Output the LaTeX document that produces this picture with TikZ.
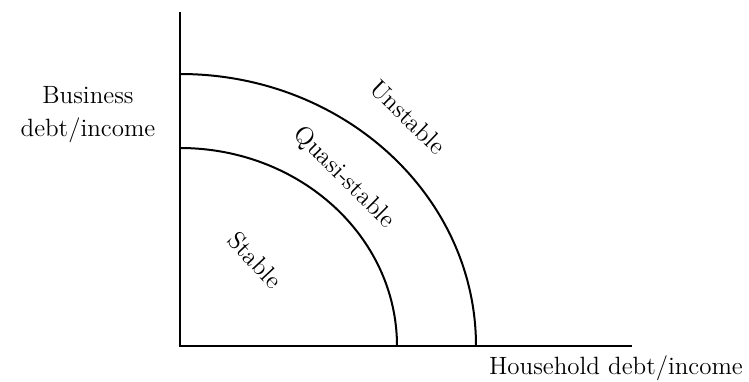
\documentclass[tikz,border=0pt]{standalone}
\usepackage{tikz}
\usetikzlibrary{positioning}

\begin{document}
\begin{tikzpicture}[
        x=0.5pt, y=0.5pt,
        every node/.style={font=\fontsize{12.5}{16.5}\selectfont, inner sep=0pt},
        axis/.style={line width=1pt},
        boundary/.style={line width=1pt},
        region/.style={align=center}
    ]
    \useasboundingbox (-180,-35) rectangle (569,346);

    % Axes
    \coordinate (origin) at (0,0);
    \coordinate (ytop) at (0,334);
    \coordinate (xend) at (452,0);
    \draw[axis] (ytop) -- (origin) -- (xend);

    % Boundaries
    \draw[boundary] (0,198) arc[start angle=90, end angle=0, x radius=217, y radius=198];
    \draw[boundary] (0,272) arc[start angle=90, end angle=0, x radius=296, y radius=272];

    % Axis labels
    \node[region] (ylabel) at (-92,231) {Business\\debt/income};
    \node (xlabel) at (436,-22) {Household debt/income};

    % Regions
    \node[rotate=-47] (stable) at (75,86) {Stable};
    \node[rotate=-45] (quasi) at (164,168) {Quasi-stable};
    \node[rotate=-44] (unstable) at (228,229) {Unstable};

\end{tikzpicture}
\end{document}
